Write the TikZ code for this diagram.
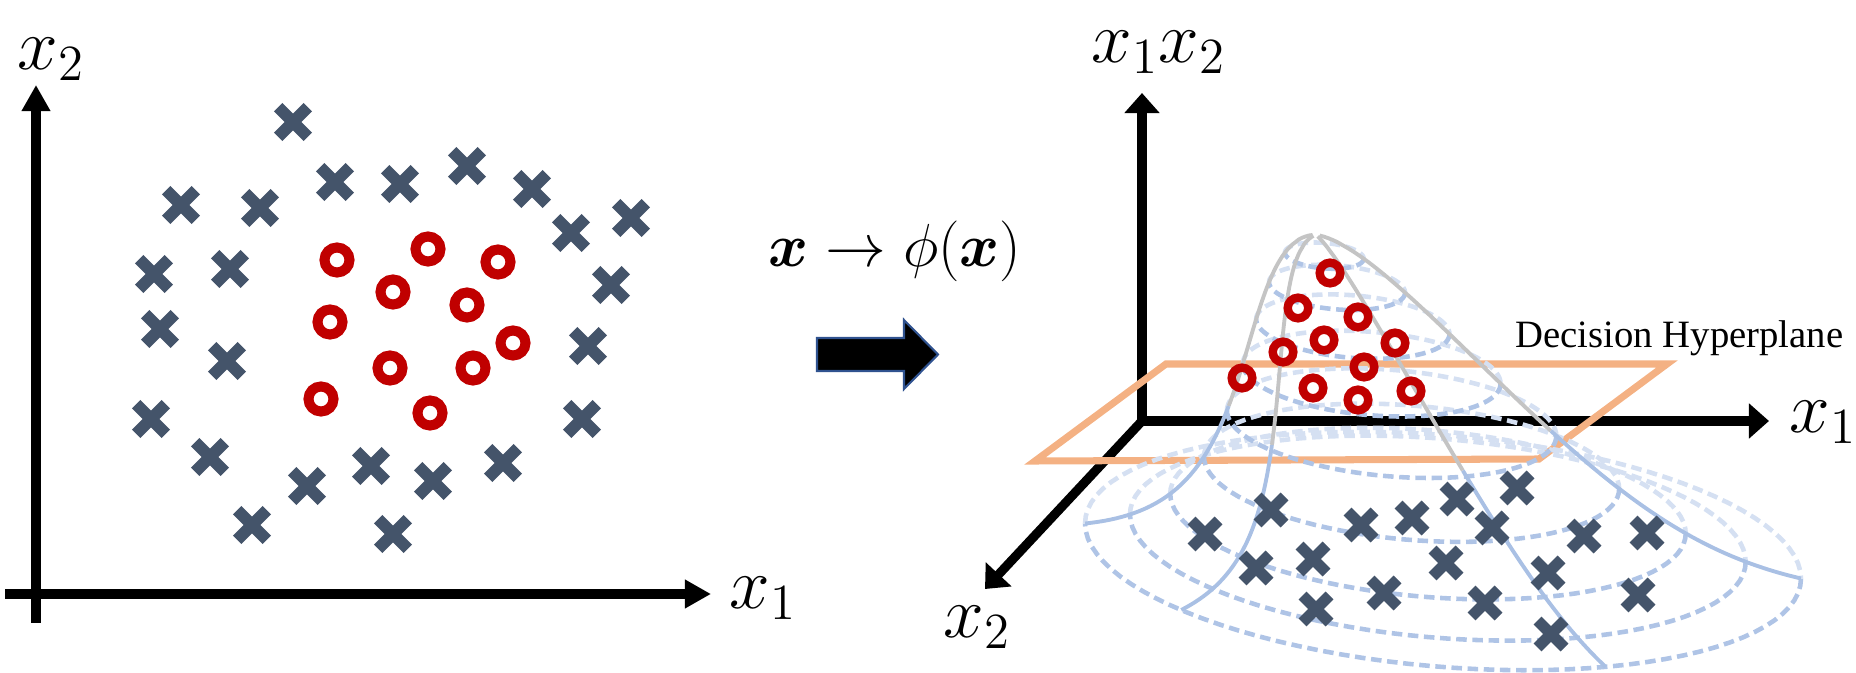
\documentclass[tikz,border=0pt]{standalone}
\usepackage{fontspec}
\usepackage{bm}
\usetikzlibrary{arrows.meta}
\newfontfamily\serifdec{Liberation Serif}

\definecolor{cruzazul}{HTML}{44546A}
\definecolor{rojoanillo}{HTML}{C00000}
\definecolor{naranjaplano}{HTML}{F4B183}
\definecolor{azulmalla}{HTML}{AFC4E6}
\definecolor{azulclaro}{HTML}{D5E0F2}
\definecolor{azullinea}{HTML}{A9C0E4}
\definecolor{griscima}{HTML}{C4C4C4}
\definecolor{bordeflecha}{HTML}{2F528F}

\begin{document}
\begin{tikzpicture}[x=0.01cm, y=-0.01cm,
    eje/.style={line width=2.6pt, >={Triangle[length=7.4pt, width=7.7pt]}, ->},
    eje3d/.style={line width=2.6pt, line join=miter, >={Triangle[length=5.7pt, width=9.7pt]}},
    etiqueta/.style={inner sep=0pt, anchor=base west, font=\fontsize{20}{24}\selectfont},
    cruz/.style={cruzazul, line width=3.4pt},
    cruzp/.style={cruzazul, line width=3.2pt},
    anillo/.style={rojoanillo, line width=2.85pt},
    anillop/.style={rojoanillo, line width=2.4pt},
    plano/.style={naranjaplano, line width=2pt, line join=miter},
    contorno/.style={line width=1.3pt, dash pattern=on 3pt off 1.6pt},
    meridiano/.style={line width=1.1pt},
    declare function={perfil(\r)=(exp(-pow(\r/0.5,1.8))-0.0308)/0.9692;}]

  \useasboundingbox (0,0) rectangle (1856,673);

  % Ejes del espacio original
  \coordinate (A1) at (36,623);
  \coordinate (A2) at (36,85);
  \coordinate (B1) at (5,594);
  \coordinate (B2) at (711,594);
  \draw[eje] (A1) -- (A2);
  \draw[eje] (B1) -- (B2);
  \node[etiqueta] (etx2) at (17,70) {$x_2$};
  \node[etiqueta] (etx1) at (729,609) {$x_1$};

  % Cruces
  \def\dc{14.8}
  \foreach \x/\y in {293/122, 335/182, 400/184, 467/166, 181/205, 260/208,
      154/274, 230/269, 160/329, 227/361, 151/419, 210/457, 307/486, 252/525,
      371/466, 433/481, 393/534, 532/189, 571/233, 631/218, 611/285, 588/346,
      582/419, 503/463} {
    \draw[cruz] ({\x-\dc},{\y-\dc}) -- ({\x+\dc},{\y+\dc})
                ({\x-\dc},{\y+\dc}) -- ({\x+\dc},{\y-\dc});
  }

  % Circulos
  \foreach \x/\y in {337/260, 428/249, 498/262, 393/292, 467/305, 330/322,
      513/343, 390/368, 473/368, 321/399, 430/413} {
    \draw[anillo] (\x,\y) circle[radius=12.5];
  }

  % Flecha y transformacion
  \draw[fill=black, draw=bordeflecha, line width=0.6pt]
    (817,338) -- (904,338) -- (904,320) -- (938,354.5) -- (904,389)
    -- (904,371) -- (817,371) -- cycle;
  \node[inner sep=0pt, anchor=base, font=\fontsize{19}{23}\selectfont] (mapa)
    at (895,267) {$\bm{x} \to \phi(\bm{x})$};

  % Ejes del espacio transformado
  \coordinate (O2) at (1142,421);
  \coordinate (Z2) at (1142,93);
  \coordinate (X2) at (1769,421);
  \coordinate (W2) at (985,589);
  \draw[eje3d, <->] (Z2) -- (O2) -- (X2);
  \draw[eje3d, ->] (O2) -- (W2);
  \node[etiqueta] (etz) at (1091,63) {$x_1x_2$};
  \node[etiqueta] (etz1) at (1789,433) {$x_1$};
  \node[etiqueta] (etz2) at (943,638) {$x_2$};

  % Hiperplano de decision
  \draw[plano] (1035,461) -- (1166,364) -- (1667,364) -- (1539,459) -- cycle;
  \node[inner sep=0pt, anchor=base west, font=\serifdec\fontsize{11}{13}\selectfont]
    (hiper) at (1515,348) {Decision Hyperplane};

  % Parametros de la superficie
  \def\cenx{1443} % centro de la base en x
  \def\ceny{551}  % centro de la base en y
  \def\semia{358} % semieje horizontal
  \def\incl{27.5} % inclinacion
  \def\semib{116} % semieje vertical

  % Curvas de nivel
  \foreach \r in {1,0.86,0.72,0.58,0.46,0.36,0.27,0.19,0.11} {
    \pgfmathsetmacro{\ox}{\cenx-127*perfil(\r)}
    \pgfmathsetmacro{\oy}{\ceny-316*perfil(\r)}
    % mitad trasera
    \draw[contorno, azulclaro] plot[domain=180:360, samples=50, variable=\t]
      ({\ox+\r*\semia*cos(\t)}, {\oy+\r*(\incl*cos(\t)+\semib*sin(\t))});
    % mitad delantera
    \draw[contorno, azulmalla] plot[domain=0:180, samples=50, variable=\t]
      ({\ox+\r*\semia*cos(\t)}, {\oy+\r*(\incl*cos(\t)+\semib*sin(\t))});
  }

  % Meridianos
  \foreach \t in {0,63,137,180} {
    \draw[meridiano, griscima] plot[domain=0.01:0.45, samples=40, variable=\r]
      ({\cenx-127*perfil(\r)+\r*\semia*cos(\t)},
       {\ceny-316*perfil(\r)+\r*(\incl*cos(\t)+\semib*sin(\t))});
    \draw[meridiano, azullinea] plot[domain=0.45:1, samples=30, variable=\r]
      ({\cenx-127*perfil(\r)+\r*\semia*cos(\t)},
       {\ceny-316*perfil(\r)+\r*(\incl*cos(\t)+\semib*sin(\t))});
  }

  % Cruces sobre la superficie
  \def\dc{13.5}
  \foreach \x/\y in {1271/510, 1205/534, 1361/525, 1256/568, 1313/559, 1316/609,
      1384/593, 1412/518, 1457/499, 1517/488, 1492/528, 1446/563, 1584/536,
      1647/533, 1548/573, 1485/603, 1638/595, 1551/634} {
    \draw[cruzp] ({\x-\dc},{\y-\dc}) -- ({\x+\dc},{\y+\dc})
                 ({\x-\dc},{\y+\dc}) -- ({\x+\dc},{\y-\dc});
  }

  % Circulos sobre la cima
  \foreach \x/\y in {1330/273, 1298/308, 1358/317, 1324/340, 1283/352,
      1395/343, 1364/367, 1242/378, 1313/388, 1358/400, 1411/391} {
    \draw[anillop] (\x,\y) circle[radius=10.3];
  }

\end{tikzpicture}
\end{document}
